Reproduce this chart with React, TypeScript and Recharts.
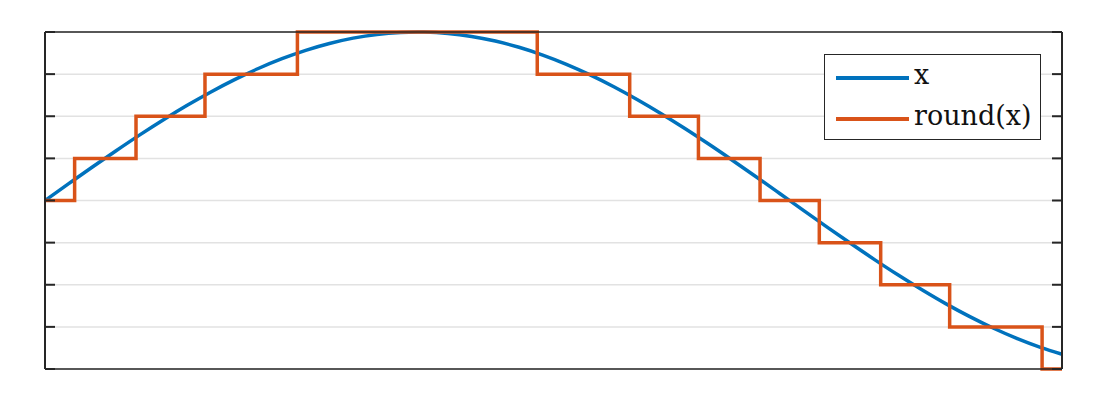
import React from 'react';
import { LineChart, Line, XAxis, YAxis, CartesianGrid, Legend } from 'recharts';

// Smooth series "x" (sampled along the horizontal axis)
const sineT = [0, 0.1, 0.2, 0.3, 0.4, 0.5, 0.6, 0.7, 0.8, 0.9, 1.0, 1.1, 1.2, 1.3, 1.4, 1.5, 1.5708, 1.6, 1.7, 1.8, 1.9, 2.0, 2.1, 2.2, 2.3, 2.4, 2.5, 2.6, 2.7, 2.8, 2.9, 3.0, 3.1, 3.2, 3.3, 3.4, 3.5, 3.6, 3.7, 3.8, 3.9, 4.0, 4.1, 4.2, 4.291];
const sineValues = [0, 0.399, 0.795, 1.182, 1.558, 1.918, 2.259, 2.577, 2.869, 3.133, 3.366, 3.565, 3.728, 3.854, 3.942, 3.99, 4.0, 3.998, 3.967, 3.895, 3.785, 3.637, 3.453, 3.234, 2.983, 2.702, 2.394, 2.062, 1.71, 1.34, 0.957, 0.564, 0.166, -0.234, -0.631, -1.022, -1.403, -1.77, -2.119, -2.448, -2.751, -3.027, -3.273, -3.486, -3.65];

// Step series "round(x)": positions where the level changes, and the level
const stepT = [0, 0.125, 0.384, 0.675, 1.065, 2.077, 2.467, 2.757, 3.017, 3.267, 3.526, 3.817, 4.207, 4.291];
const stepValues = [0, 1, 2, 3, 4, 3, 2, 1, 0, -1, -2, -3, -4, -4];

const yTicks = [-4, -3, -2, -1, 0, 1, 2, 3, 4];
const seriesNames = ['x', 'round(x)'];

const sineData = sineT.map((t, i) => ({ t, v: sineValues[i] }));
const stepData = stepT.map((t, i) => ({ t, v: stepValues[i] }));

const BLUE = '#0072BD';
const ORANGE = '#D95319';
const FRAME = '#262626';

const LegendBox = (props: any) => {
  const payload = [...((props.payload || []) as any[])].sort(
    (a, b) => seriesNames.indexOf(a.value) - seriesNames.indexOf(b.value)
  );
  return (
    <div
      style={{
        border: `1.5px solid ${FRAME}`,
        background: '#fff',
        width: 217,
        height: 86,
        boxSizing: 'border-box',
        padding: '2px 0 0 11px',
        fontFamily: '"DejaVu Serif", serif',
        fontSize: 27,
        color: '#111',
      }}
    >
      {payload.map((p, i) => (
        <div key={i} style={{ display: 'flex', alignItems: 'center', height: 41 }}>
          <div style={{ width: 73, height: 4, background: p.color, marginRight: 5 }} />
          <span style={{ lineHeight: '27px', marginTop: -7 }}>{p.value}</span>
        </div>
      ))}
    </div>
  );
};

const noLabel = () => '';

export default function App() {
  return (
    <div style={{ width: 1080, height: 392 }}>
      <LineChart
        width={1080}
        height={392}
        margin={{ top: 23, right: 25, bottom: 30, left: 36 }}
      >
        <CartesianGrid horizontal vertical={false} stroke="#e2e2e2" strokeWidth={1.5} />
        <XAxis
          dataKey="t"
          type="number"
          domain={[0, 4.291]}
          height={1}
          tickFormatter={noLabel}
          tickLine={false}
          axisLine={{ stroke: FRAME, strokeWidth: 1.5 }}
        />
        <XAxis
          xAxisId="top"
          orientation="top"
          dataKey="t"
          type="number"
          domain={[0, 4.291]}
          allowDataOverflow
          height={1}
          tickFormatter={noLabel}
          tickLine={false}
          axisLine={{ stroke: FRAME, strokeWidth: 1.5 }}
        />
        <YAxis
          type="number"
          domain={[-4, 4]}
          ticks={yTicks}
          width={1}
          tickFormatter={noLabel}
          tickSize={-10}
          tickLine={{ stroke: FRAME, strokeWidth: 2 }}
          axisLine={{ stroke: FRAME, strokeWidth: 2 }}
        />
        <YAxis
          yAxisId="right"
          orientation="right"
          type="number"
          domain={[-4, 4]}
          ticks={yTicks}
          allowDataOverflow
          width={1}
          tickFormatter={noLabel}
          tickSize={-10}
          tickLine={{ stroke: FRAME, strokeWidth: 2 }}
          axisLine={{ stroke: FRAME, strokeWidth: 2 }}
        />
        <Legend
          layout="horizontal"
          verticalAlign="middle"
          align="center"
          wrapperStyle={{ top: 46, left: 816, width: 'auto', height: 'auto' }}
          content={<LegendBox />}
        />
        <Line
          data={sineData}
          dataKey="v"
          name={seriesNames[0]}
          type="monotone"
          stroke={BLUE}
          strokeWidth={3.5}
          dot={false}
          activeDot={false}
          isAnimationActive={false}
        />
        <Line
          data={stepData}
          dataKey="v"
          name={seriesNames[1]}
          type="stepAfter"
          stroke={ORANGE}
          strokeWidth={3.5}
          dot={false}
          activeDot={false}
          isAnimationActive={false}
        />
      </LineChart>
    </div>
  );
}
